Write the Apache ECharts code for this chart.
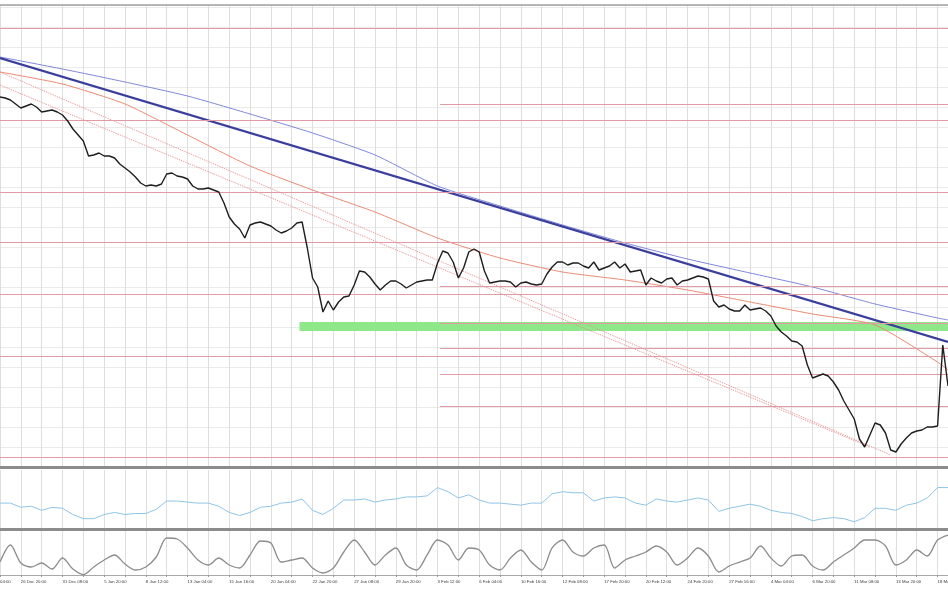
<!DOCTYPE html>
<html><head><meta charset="utf-8">
<script src="https://cdn.jsdelivr.net/npm/echarts@6/dist/echarts.min.js"></script>
<style>html,body{margin:0;padding:0;background:#fff}#c{width:948px;height:593px}</style>
</head><body><div id="c"></div>
<script>
// tick labels, one every 16 H4 bars; bar 0 = 26 Dec 20:00
const tickLabels = ['26 Dec 20:00','31 Dec 08:00','5 Jan 20:00','8 Jan 12:00','13 Jan 04:00','15 Jan 16:00','20 Jan 04:00','22 Jan 20:00','27 Jan 08:00','29 Jan 20:00','3 Feb 12:00','6 Feb 04:00','10 Feb 16:00','12 Feb 08:00','17 Feb 20:00','20 Feb 12:00','24 Feb 20:00','27 Feb 16:00','4 Mar 04:00','6 Mar 20:00','11 Mar 08:00','13 Mar 20:00','18 Mar 12:00'];
const firstPartialLabel = '04:00';
// price sampled every 2 bars, starting at bar -8
const price = [
1.2150,1.2145,1.2135,1.2115,1.2095,1.2105,1.2115,1.2100,1.2075,1.2080,
1.2085,1.2075,1.2060,1.2030,1.1990,1.1960,1.1930,1.1855,1.1860,1.1870,
1.1855,1.1855,1.1845,1.1815,1.1795,1.1775,1.1750,1.1720,1.1705,1.1710,
1.1705,1.1715,1.1765,1.1770,1.1755,1.1750,1.1740,1.1705,1.1690,1.1690,
1.1695,1.1685,1.1675,1.1620,1.1550,1.1515,1.1490,1.1445,1.1510,1.1520,
1.1525,1.1515,1.1505,1.1485,1.1470,1.1480,1.1495,1.1520,1.1525,1.1395,
1.1245,1.1200,1.1075,1.1130,1.1085,1.1125,1.1150,1.1155,1.1210,1.1280,
1.1275,1.1250,1.1215,1.1185,1.1210,1.1230,1.1230,1.1215,1.1195,1.1210,
1.1225,1.1230,1.1235,1.1235,1.1320,1.1380,1.1370,1.1325,1.1245,1.1295,
1.1375,1.1390,1.1375,1.1280,1.1220,1.1225,1.1230,1.1230,1.1225,1.1200,
1.1220,1.1225,1.1215,1.1210,1.1215,1.1265,1.1300,1.1325,1.1325,1.1310,
1.1320,1.1320,1.1305,1.1295,1.1325,1.1285,1.1295,1.1305,1.1325,1.1295,
1.1315,1.1275,1.1280,1.1285,1.1210,1.1245,1.1230,1.1220,1.1240,1.1245,
1.1210,1.1230,1.1235,1.1245,1.1255,1.1250,1.1240,1.1130,1.1100,1.1110,
1.1090,1.1080,1.1080,1.1110,1.1085,1.1090,1.1095,1.1080,1.1055,1.1005,
1.0975,1.0955,1.0930,1.0925,1.0905,1.0810,1.0745,1.0755,1.0765,1.0755,
1.0725,1.0685,1.0630,1.0585,1.0540,1.0440,1.0400,1.0460,1.0520,1.0510,
1.0470,1.0385,1.0375,1.0415,1.0445,1.0470,1.0480,1.0485,1.0500,1.0500,
1.0505,1.0910,1.0705];
// moving averages sampled every 24 bars from bar -8 (last point at the right edge)
const maBlue = [1.2350,1.2290,1.2225,1.2155,1.2065,1.1970,1.1860,1.1705,1.1605,1.1510,1.1420,1.1340,1.1270,1.1200,1.1115,1.1045,1.1035];
const maRed  = [1.2275,1.2215,1.2115,1.1960,1.1805,1.1685,1.1575,1.1445,1.1345,1.1275,1.1235,1.1185,1.1125,1.1065,1.1010,1.0825,1.0785];
// trend lines [bar, price]
const trendMain = [[-8,1.2345],[356,1.0925]];
const channelA = [[-8,1.2275],[334,1.0360]];
const channelB = [[-8,1.2210],[326,1.0400]];
// horizontal levels
const levelsFull = [1.2495,1.2035,1.1675,1.1425,1.1165,1.0855,1.0350];
const levelsPartial = [1.2115,1.1205,1.1020,1.0895,1.0765,1.0605];
const levelStartBar = 161;
const supportZone = {fromBar:107, top:1.1025, bottom:1.0980};
// oscillators sampled every 4 bars from bar -8
const rsi = [43.9,43.9,36.8,38.6,31.6,36.8,35.1,24.6,17.5,17.5,
24.6,28.1,24.6,26.3,26.3,33.3,47.4,47.4,45.6,43.9,
43.9,38.6,28.1,22.8,28.1,36.8,38.6,43.9,45.6,50.9,
31.6,24.6,35.1,49.1,49.1,50.9,45.6,49.1,50.9,54.4,
54.4,56.1,70.2,63.2,52.6,57.9,49.1,43.9,43.9,42.1,
40.4,43.9,43.9,59.6,63.2,61.4,61.4,47.4,52.6,54.4,
52.6,43.9,40.4,50.9,47.4,45.6,49.1,52.6,49.1,29.8,
35.1,38.6,42.1,38.6,31.6,28.1,26.3,21.1,14.0,17.5,
19.3,17.5,12.3,19.3,35.1,35.1,31.6,40.4,43.9,52.6,
70.2,70.2];
const stoch = [29.5,68.2,27.3,18.2,27.3,13.6,38.6,13.6,1,18.2,
34.1,45.5,25,11.4,18.2,40.9,84.1,81.8,61.4,34.1,
22.7,38.6,22.7,15.9,45.5,77.3,72.7,29.5,34.1,38.6,
15.9,4.5,15.9,52.3,79.5,52.3,22.7,45.5,61.4,22.7,
11.4,45.5,79.5,68.2,34.1,61.4,56.8,22.7,11.4,38.6,
56.8,29.5,11.4,61.4,79.5,52.3,43.2,61.4,68.2,15.9,
34.1,43.2,52.3,65.9,52.3,22.7,38.6,61.4,43.2,6.8,
20.5,29.5,38.6,65.9,38.6,20.5,43.2,45.5,20.5,11.4,
29.5,45.5,61.4,79.5,79.5,65.9,22.7,34.1,56.8,43.2,
79.5,90.9];

const BAR_MIN = -8, BAR_MAX = 356;
const chart = echarts.init(document.getElementById('c'), null, {renderer:'canvas'});
const vGrid = {show:true, lineStyle:{color:'#dedede', width:1}};
function xAx(gi, opts){
  return Object.assign({type:'value', gridIndex:gi, min:BAR_MIN, max:BAR_MAX, interval:8,
    axisLine:{show:false}, axisTick:{show:false}, axisLabel:{show:false}, splitLine:vGrid}, opts||{});
}
const pinkLine = {color:'#e29ba5', width:1.2, type:'solid'};
const mlFull = levelsFull.map(v=>[{coord:[BAR_MIN,v]},{coord:[BAR_MAX,v]}]);
const mlPart = levelsPartial.map(v=>[{coord:[levelStartBar,v]},{coord:[BAR_MAX,v]}]);
const step = (start, k) => (v,i)=>[Math.min(start + k*i, BAR_MAX), v];
const gridBase = {left:0, right:0, containLabel:false, outerBoundsMode:'none'};

chart.setOption({
  animation:false,
  backgroundColor:'#ffffff',
  grid:[
    Object.assign({top:5, height:462}, gridBase),
    Object.assign({top:470, height:59}, gridBase),
    Object.assign({top:531, height:44}, gridBase)
  ],
  xAxis:[
    xAx(0,{axisLine:{show:true, onZero:false, lineStyle:{color:'#8c8c8c', width:3}}}),
    xAx(0,{position:'top', axisLine:{show:true, onZero:false, lineStyle:{color:'#a0a0a0', width:1.5}}, splitLine:{show:false}}),
    xAx(1,{axisLine:{show:true, onZero:false, lineStyle:{color:'#8c8c8c', width:3}}}),
    xAx(2,{axisLine:{show:true, onZero:false, lineStyle:{color:'#a8a8a8', width:1}},
      axisTick:{show:true, length:2, lineStyle:{color:'#999'}},
      axisLabel:{show:true, fontSize:4.3, color:'#3a3a3a', fontFamily:'Liberation Sans', align:'left', margin:5,
        hideOverlap:false, showMinLabel:true, showMaxLabel:true,
        formatter:function(v){ if(v===BAR_MIN) return firstPartialLabel; if(v%16!==0) return ''; return tickLabels[v/16]||''; }}})
  ],
  yAxis:[
    {type:'value', gridIndex:0, min:1.03, max:1.261, interval:0.01, axisLine:{show:false}, axisTick:{show:false}, axisLabel:{show:false}, splitLine:{show:true, lineStyle:{color:'#ebebeb'}}},
    {type:'value', gridIndex:1, min:0, max:100, axisLine:{show:false}, axisTick:{show:false}, axisLabel:{show:false}, splitLine:{show:false}},
    {type:'value', gridIndex:2, min:0, max:100, axisLine:{show:false}, axisTick:{show:false}, axisLabel:{show:false}, splitLine:{show:false}}
  ],
  series:[
    {type:'line', name:'levels', xAxisIndex:0, yAxisIndex:0, data:trendMain, symbol:'none', lineStyle:{width:0, opacity:0}, silent:true, z:1,
      markLine:{silent:true, symbol:['none','none'], label:{show:false}, lineStyle:pinkLine, data:mlFull.concat(mlPart)},
      markArea:{silent:true, itemStyle:{color:'#8ee88a'}, data:[[{coord:[supportZone.fromBar,supportZone.top]},{coord:[BAR_MAX,supportZone.bottom]}]]}},
    {type:'line', name:'chanA', xAxisIndex:0, yAxisIndex:0, data:channelA, symbol:'none', lineStyle:{color:'#e88c8c', width:1, type:'dotted'}, z:2},
    {type:'line', name:'chanB', xAxisIndex:0, yAxisIndex:0, data:channelB, symbol:'none', lineStyle:{color:'#e88c8c', width:1, type:'dotted'}, z:2},
    {type:'line', name:'maRed', xAxisIndex:0, yAxisIndex:0, data:maRed.map(step(BAR_MIN,24)), symbol:'none', smooth:0.2, lineStyle:{color:'#e98a72', width:1}, z:3},
    {type:'line', name:'maBlue', xAxisIndex:0, yAxisIndex:0, data:maBlue.map(step(BAR_MIN,24)), symbol:'none', smooth:0.2, lineStyle:{color:'#7f86d8', width:1}, z:3},
    {type:'line', name:'trend', xAxisIndex:0, yAxisIndex:0, data:trendMain, symbol:'none', lineStyle:{color:'#3a3e9c', width:2.2}, z:4},
    {type:'line', name:'price', xAxisIndex:0, yAxisIndex:0, data:price.map(step(BAR_MIN,2)), symbol:'none', lineStyle:{color:'#1e1e1e', width:1.4}, z:5},
    {type:'line', name:'rsi', xAxisIndex:2, yAxisIndex:1, data:rsi.map(step(BAR_MIN,4)), symbol:'none', lineStyle:{color:'#8fc4e6', width:1}},
    {type:'line', name:'stoch', xAxisIndex:3, yAxisIndex:2, data:stoch.map(step(BAR_MIN,4)), symbol:'none', smooth:0.3, lineStyle:{color:'#8c8c8c', width:1.3}}
  ]
});
</script></body></html>
